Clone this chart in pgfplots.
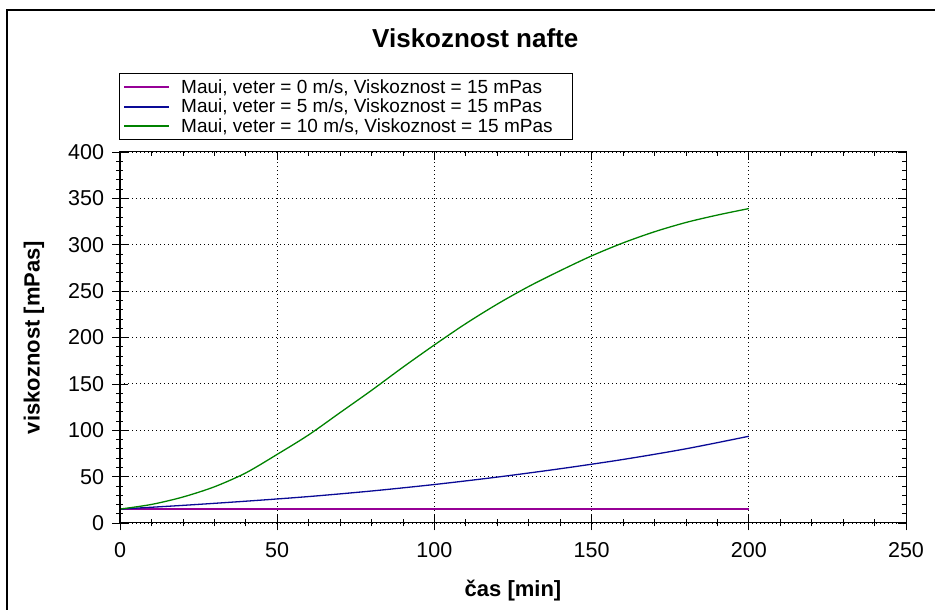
\documentclass[border=0pt]{standalone}
\usepackage{fontspec}
\setmainfont{Liberation Sans}
\usepackage{pgfplots}
\pgfplotsset{compat=1.18}
\definecolor{cpurple}{RGB}{150,0,150}
\definecolor{cblue}{RGB}{10,10,150}
\definecolor{cgreen}{RGB}{0,130,0}
\begin{document}
\begin{tikzpicture}[x=1pt,y=1pt]
\path[use as bounding box] (0,0) rectangle (935,610);
\draw[line width=1.2pt] (7,0) -- (7,600) -- (935,600);
\begin{axis}[
  at={(120pt,87pt)}, anchor=south west,
  scale only axis, width=786pt, height=371pt,
  xmin=0, xmax=250, ymin=0, ymax=400,
  xtick={0,50,...,250}, ytick={0,50,...,400},
  minor x tick num=4, minor y tick num=4,
  tick align=center, xtick pos=bottom, ytick pos=left,
  major tick length=15pt, minor tick length=7pt,
  tick style={black, line width=0.7pt},
  axis line style={line width=1pt},
  grid=major,
  major grid style={black, line width=0.9pt, dash pattern=on 0.9pt off 3.1pt},
  /pgf/number format/assume math mode=true,
  ticklabel style={font=\fontsize{21.5}{25}\selectfont},
  xticklabel style={yshift=-8pt},
  yticklabel style={xshift=-5pt},
  title={Viskoznost nafte},
  title style={font=\bfseries\fontsize{26}{31}\selectfont, at={(axis description cs:0.452,1)}, anchor=center, yshift=108pt},
  xlabel={čas [min]},
  xlabel style={font=\bfseries\fontsize{22}{26}\selectfont, at={(axis description cs:0.5,0)}, anchor=center, yshift=-68pt},
  ylabel={viskoznost [mPas]},
  ylabel style={font=\bfseries\fontsize{22}{26}\selectfont, at={(axis description cs:-0.1094,0.5)}, anchor=center},
  legend cell align=left,
  legend style={at={(axis description cs:0,1)}, anchor=south west, yshift=12pt, xshift=-1pt,
    draw=black, line width=0.9pt, inner xsep=4pt, inner ysep=4pt,
    font=\fontsize{19}{24}\selectfont, row sep=0pt,
    nodes={inner sep=2pt}},
  legend image code/.code={\draw[#1, line width=1.8pt] (0pt,0pt) -- (45pt,0pt);},
]
\addplot[cpurple, line width=1.3pt] coordinates {(0,15) (50,15) (100,15) (150,15) (200,15)};
\addlegendentry{\hspace*{9pt}Maui, veter = 0 m/s, Viskoznost = 15 mPas}
\addplot[cblue, line width=1.3pt, smooth] coordinates {(0,15) (20,19) (40,23.5) (60,28.5) (80,34.5) (100,41.5) (120,49.5) (140,58.5) (160,68.5) (180,80) (200,93.5)};
\addlegendentry{\hspace*{9pt}Maui, veter = 5 m/s, Viskoznost = 15 mPas}
\addplot[cgreen, line width=1.3pt, smooth] coordinates {(0,15) (10,20) (20,28) (30,39) (40,54) (50,74) (60,95) (70,119) (80,143) (90,168) (100,192) (110,215) (120,236) (130,255) (140,272) (150,288) (160,302) (170,314) (180,324) (190,332) (200,339)};
\addlegendentry{\hspace*{9pt}Maui, veter = 10 m/s, Viskoznost = 15 mPas\hspace*{14pt}}
\end{axis}
\begin{axis}[
  at={(120pt,87pt)}, anchor=south west,
  scale only axis, width=786pt, height=371pt,
  xmin=0, xmax=250, ymin=0, ymax=400,
  xtick={0,50,...,250}, ytick={0,50,...,400},
  minor x tick num=4, minor y tick num=4,
  xtick pos=top, ytick pos=right, tick align=inside,
  major tick length=8pt, minor tick length=4pt,
  tick style={black, line width=0.7pt},
  xticklabels={}, yticklabels={},
  axis line style={line width=1pt},
]
\end{axis}
\end{tikzpicture}
\end{document}
